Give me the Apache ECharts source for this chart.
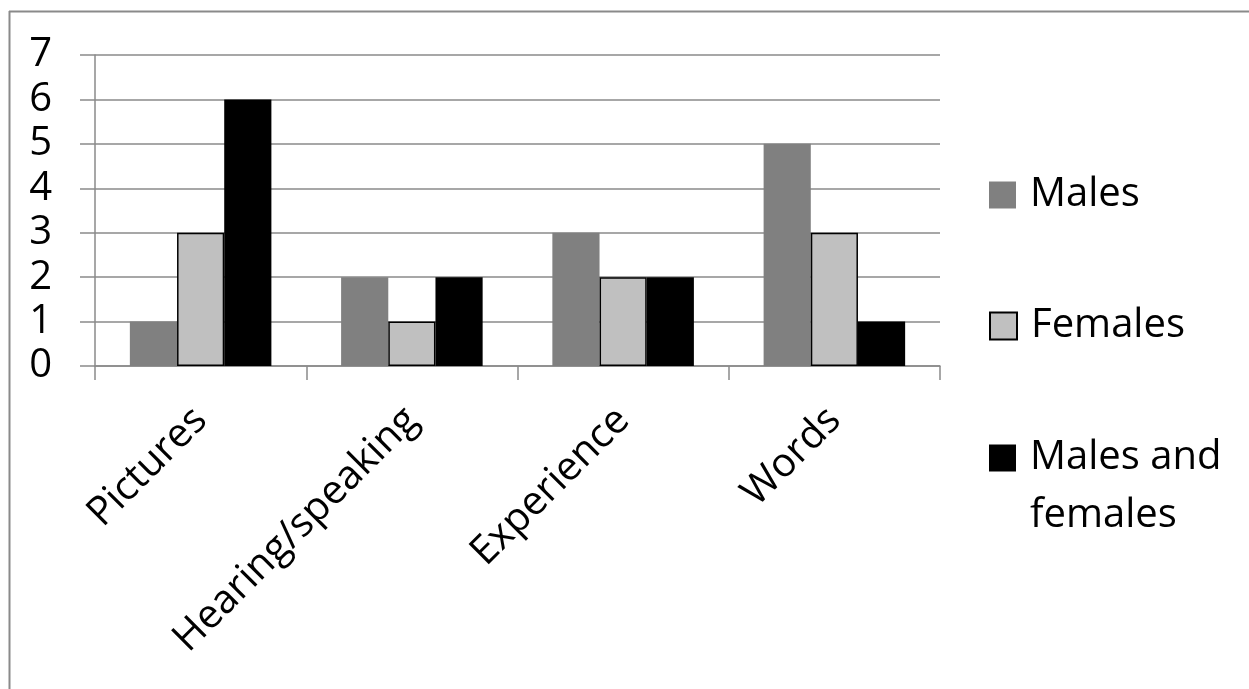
<!DOCTYPE html>
<html>
<head>
<meta charset="utf-8">
<script src="https://cdn.jsdelivr.net/npm/echarts@6/dist/echarts.min.js"></script>
<style>
  html, body { margin: 0; padding: 0; background: #fff; overflow: hidden; }
  #chart { width: 1249px; height: 689px; }
</style>
</head>
<body>
<div id="chart"></div>
<script>
// Categories and values for each group
const categories = ['Pictures', 'Hearing/speaking', 'Experience', 'Words'];
const males = [1, 2, 3, 5];
const females = [3, 1, 2, 3];
const malesAndFemales = [6, 2, 2, 1];
const seriesNames = ['Males', 'Females', 'Males and females'];

const FONT = 'Open Sans';
const FONT_SIZE = 40;
const GRID_GRAY = '#8a8a8a';

const chart = echarts.init(document.getElementById('chart'), null, { renderer: 'canvas' });

const legendText = {
  fontFamily: FONT, fontSize: FONT_SIZE, color: '#000',
  lineHeight: 58, padding: [0, 0, 0, 9]
};

function legendBlock(name, top, formatter) {
  const cfg = {
    data: [name], orient: 'vertical', left: 989, top: top, padding: 0,
    itemWidth: 27, itemHeight: 27, itemGap: 0, icon: 'rect',
    textStyle: legendText
  };
  if (formatter) cfg.formatter = formatter;
  return cfg;
}

chart.setOption({
  animation: false,
  backgroundColor: '#fff',
  graphic: [
    {
      // outer frame: left edge
      type: 'line',
      shape: { x1: 9.5, y1: 11, x2: 9.5, y2: 689 },
      style: { stroke: '#8a8a8a', lineWidth: 2 },
      silent: true
    },
    {
      // outer frame: top edge
      type: 'line',
      shape: { x1: 9, y1: 11.5, x2: 1249, y2: 11.5 },
      style: { stroke: '#8a8a8a', lineWidth: 2 },
      silent: true
    }
  ],
  grid: { left: 95, right: 309, top: 55, bottom: 323, containLabel: false },
  legend: [
    legendBlock(seriesNames[0], 166),
    legendBlock(seriesNames[1], 297),
    // leading blank line keeps the swatch level with the first text line
    legendBlock(seriesNames[2], 371, function (name) {
      return '\n' + name.replace(' females', '\nfemales');
    })
  ],
  xAxis: {
    type: 'category',
    data: categories,
    boundaryGap: true,
    axisLine: { show: true, lineStyle: { color: GRID_GRAY, width: 1.5 } },
    axisTick: { show: true, alignWithLabel: false, length: 14, lineStyle: { color: GRID_GRAY, width: 1.5 } },
    axisLabel: {
      rotate: 45, margin: 48, interval: 0,
      fontFamily: FONT, fontSize: FONT_SIZE, color: '#000'
    },
    splitLine: { show: false }
  },
  yAxis: {
    type: 'value',
    min: 0, max: 7, interval: 1,
    axisLine: { show: true, lineStyle: { color: GRID_GRAY, width: 1.5 } },
    axisTick: { show: true, inside: false, length: 15, lineStyle: { color: GRID_GRAY, width: 1.5 } },
    axisLabel: { margin: 43, fontFamily: FONT, fontSize: FONT_SIZE, color: '#000' },
    splitLine: { show: true, lineStyle: { color: GRID_GRAY, width: 1.5 } }
  },
  series: [
    {
      name: seriesNames[0], type: 'bar', data: males,
      barGap: 0, barCategoryGap: '33%',
      itemStyle: { color: '#808080' }
    },
    {
      name: seriesNames[1], type: 'bar', data: females,
      barGap: 0, barCategoryGap: '33%',
      itemStyle: { color: '#c0c0c0', borderColor: '#000', borderWidth: 1.5 }
    },
    {
      name: seriesNames[2], type: 'bar', data: malesAndFemales,
      barGap: 0, barCategoryGap: '33%',
      itemStyle: { color: '#000' }
    }
  ]
});
</script>
</body>
</html>
